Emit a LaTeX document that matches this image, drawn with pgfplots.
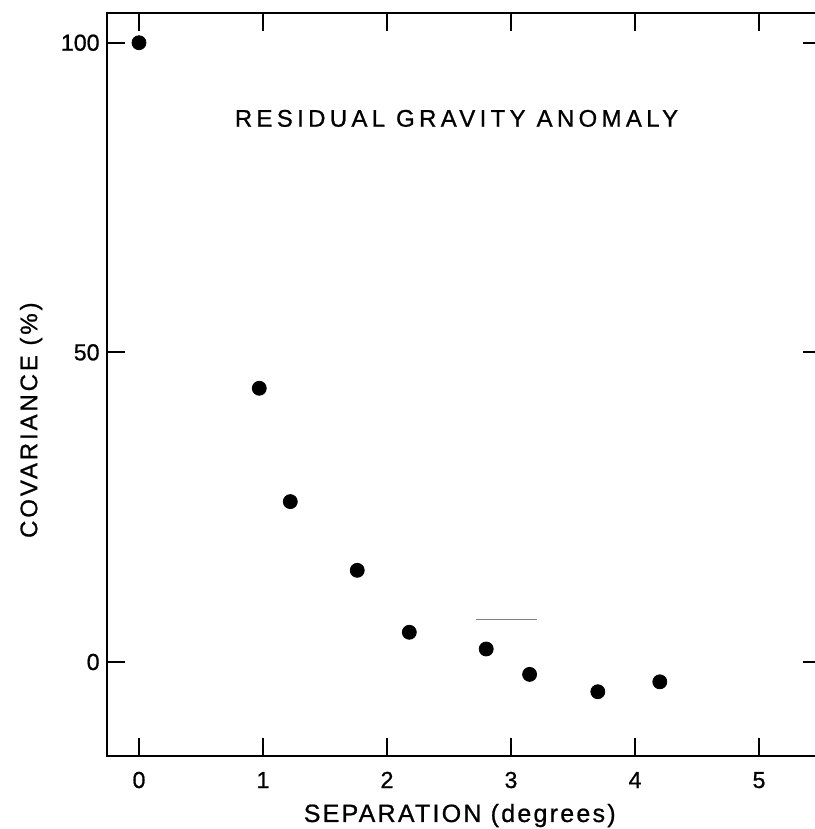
\documentclass[border=0pt]{standalone}
\usepackage{fontspec}
\setmainfont{Liberation Sans}[FakeBold=0.8]
\usepackage{pgfplots}
\pgfplotsset{compat=1.18}
\begin{document}
\begin{tikzpicture}
\path[use as bounding box] (-53.5pt,-36.5pt) rectangle (353.5pt,378pt);
\begin{axis}[
  at={(0,0)}, anchor=south west,
  scale only axis, width=357pt, height=371.5pt,
  xmin=-0.258, xmax=5.5, ymin=-15.18, ymax=104.8,
  axis line style={line width=1.4pt},
  xtick={0,1,2,3,4,5}, ytick={0,50,100},
  tick align=inside, major tick length=9pt,
  every tick/.style={black, line width=1.1pt},
  tick label style={font=\fontsize{11.6}{13}\selectfont},
  /pgf/number format/assume math mode=true,
  xticklabel style={anchor=base, inner sep=0pt, yshift=-16pt},
  yticklabel style={anchor=east, inner sep=0pt, xshift=-3.5pt},
  xlabel={\addfontfeature{LetterSpace=9}SEPARATION (degrees)},
  xlabel style={at={(axis description cs:0.494,-0.0888)}, anchor=base, inner sep=0pt, font=\fontsize{12.5}{14}\selectfont},
  ylabel={\addfontfeature{LetterSpace=12}COVARIANCE (\%)},
  ylabel style={at={(axis description cs:-0.1064,0.452)}, anchor=center, rotate=0, inner sep=0pt, font=\fontsize{12}{14}\selectfont},
]
\addplot[only marks, mark=*, mark size=3.5pt, black] coordinates {
  (0,100) (0.97,44.2) (1.22,25.9) (1.76,14.8) (2.18,4.8)
  (2.80,2.1) (3.15,-2.0) (3.70,-4.8) (4.20,-3.2)
};
\addplot[black!50, line width=0.5pt] coordinates {(2.72,6.8) (3.21,6.8)};
\node[anchor=base, inner sep=0pt, font=\fontsize{12}{14}\selectfont] at (rel axis cs:0.4895,0.847) {\addfontfeature{LetterSpace=18}RESIDUAL GRAVITY ANOMALY};
\end{axis}
\end{tikzpicture}
\end{document}
